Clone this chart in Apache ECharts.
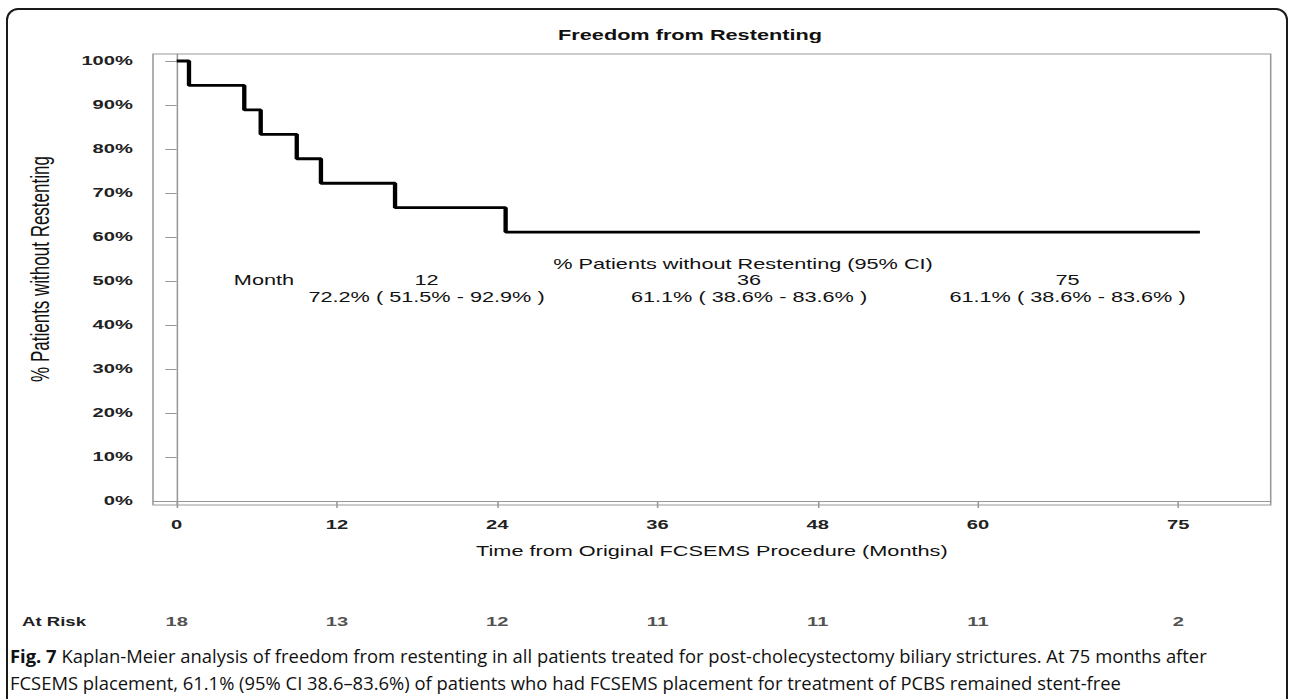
<!DOCTYPE html>
<html>
<head>
<meta charset="utf-8">
<script src="https://cdn.jsdelivr.net/npm/echarts@6/dist/echarts.min.js"></script>
<style>
html,body{margin:0;padding:0;background:#fff;}
#wrap{position:relative;width:1292px;height:699px;overflow:hidden;background:#fff;}
#main{position:absolute;left:0;top:0;width:834px;height:699px;transform:scaleX(1.549161);transform-origin:0 0;}
#over{position:absolute;left:0;top:0;width:1292px;height:699px;}
</style>
</head>
<body>
<div id="wrap"><div id="main"></div><div id="over"></div></div>
<script>
// ---- data ----
const kmTimes    = [0, 0.92, 5.06, 6.29, 8.99, 10.80, 16.35, 24.63, 76.62];
const kmSurvival = [100, 94.44, 88.89, 83.33, 77.78, 72.22, 66.67, 61.11, 61.11];
const xTicks = [0, 12, 24, 36, 48, 60, 75];
const yTicks = [0, 10, 20, 30, 40, 50, 60, 70, 80, 90, 100];
const atRiskTimes  = [0, 12, 24, 36, 48, 60, 75];
const atRiskCounts = [18, 13, 12, 11, 11, 11, 2];
const insetHeader = '% Patients without Restenting (95% CI)';
const insetMonths = ['12', '36', '75'];
const insetEstimates = ['72.2% ( 51.5% - 92.9% )', '61.1% ( 38.6% - 83.6% )', '61.1% ( 38.6% - 83.6% )'];
const titleText = 'Freedom from Restenting';
const xName = 'Time from Original FCSEMS Procedure (Months)';
const yName = '% Patients without Restenting';
const captionBold = 'Fig. 7';
const captionLine1 = ' Kaplan-Meier analysis of freedom from restenting in all patients treated for post-cholecystectomy biliary strictures. At 75 months after';
const captionLine2 = 'FCSEMS placement, 61.1% (95% CI 38.6–83.6%) of patients who had FCSEMS placement for treatment of PCBS remained stent-free';

// ---- layout (unstretched coordinates; main layer is stretched horizontally) ----
const S = 1292 / 834;
const FONT = '"Liberation Sans", Arial, sans-serif';
const gridLeft = 153 / S, gridRight = 834 - 1270.7 / S;
const xMin = -1.775, xMax = 81.92, yMin = -0.91, yMax = 101.59;

const kmData = kmTimes.map((t, i) => [t, kmSurvival[i]]);
const riskData = atRiskTimes.map((t, i) => [t, 0.5, atRiskCounts[i]]);

const main = echarts.init(document.getElementById('main'), null, {renderer: 'svg', width: 834, height: 699});

const insetGraphics = [
  {type:'text', x: 743/S, y: 264, style:{text: insetHeader, font: '14px ' + FONT, fill:'#111', textAlign:'center', textVerticalAlign:'middle'}},
  {type:'text', x: 264/S, y: 280, style:{text: 'Month', font: '14px ' + FONT, fill:'#111', textAlign:'center', textVerticalAlign:'middle'}}
];
const insetX = [426.5, 749, 1067.5];
insetMonths.forEach((m, i) => {
  insetGraphics.push({type:'text', x: insetX[i]/S, y: 280, style:{text: m, font: '14px ' + FONT, fill:'#111', textAlign:'center', textVerticalAlign:'middle'}});
  insetGraphics.push({type:'text', x: insetX[i]/S, y: 297, style:{text: insetEstimates[i], font: '14px ' + FONT, fill:'#111', textAlign:'center', textVerticalAlign:'middle'}});
});

main.setOption({
  backgroundColor: '#fff',
  animation: false,
  grid: [
    {left: gridLeft, right: gridRight, top: 54, bottom: 699 - 505, show: true, borderColor: '#999', borderWidth: 1, backgroundColor: 'transparent'},
    {left: gridLeft, right: gridRight, top: 610, height: 24, show: false}
  ],
  xAxis: [
    {type: 'value', gridIndex: 0, min: xMin, max: xMax,
     name: xName, nameLocation: 'middle', nameGap: 39,
     nameTextStyle: {fontFamily: FONT, fontSize: 14, color: '#111'},
     axisLine: {show: true, lineStyle: {color: '#999', width: 1}},
     axisTick: {show: true, customValues: xTicks, length: 7, lineStyle: {color: '#999'}},
     axisLabel: {show: true, customValues: xTicks, margin: 13, fontFamily: FONT, fontWeight: 'bold', fontSize: 13, color: '#222'},
     splitLine: {show: false}},
    {type: 'value', gridIndex: 1, min: xMin, max: xMax, show: false}
  ],
  yAxis: [
    {type: 'value', gridIndex: 0, min: yMin, max: yMax,
     axisLine: {show: true, lineStyle: {color: '#999', width: 1}},
     axisTick: {show: true, customValues: yTicks, length: 7.4, lineStyle: {color: '#999'}},
     axisLabel: {show: true, customValues: yTicks, margin: 13, formatter: '{value}%', fontFamily: FONT, fontWeight: 'bold', fontSize: 13, color: '#222'},
     splitLine: {show: false}},
    {type: 'value', gridIndex: 1, min: 0, max: 1, show: false}
  ],
  series: [
    {type: 'line', xAxisIndex: 0, yAxisIndex: 0, data: kmData, step: 'end', symbol: 'none',
     lineStyle: {color: '#000', width: 2.8}, clip: false},
    {type: 'scatter', xAxisIndex: 1, yAxisIndex: 1, data: riskData, symbol: 'circle', symbolSize: 1,
     itemStyle: {color: 'rgba(0,0,0,0)'},
     label: {show: true, position: 'inside', formatter: p => String(p.value[2]), fontFamily: FONT, fontWeight: 'bold', fontSize: 13, color: '#222'}}
  ],
  graphic: [
    {type:'text', x: 690/S, y: 35, style:{text: titleText, font: 'bold 14px ' + FONT, fill:'#111', textAlign:'center', textVerticalAlign:'middle'}},
    {type:'text', x: 40/S, y: 269, rotation: Math.PI/2, style:{text: yName, font: '17px ' + FONT, fill:'#111', textAlign:'center', textVerticalAlign:'middle'}},
    {type:'text', x: 22/S, y: 622, style:{text: 'At Risk', font: 'bold 12px ' + FONT, fill:'#222', textAlign:'left', textVerticalAlign:'middle'}}
  ].concat(insetGraphics)
});

// ---- overlay: figure frame and caption (not stretched) ----
const over = echarts.init(document.getElementById('over'), null, {renderer: 'svg', width: 1292, height: 699});
over.setOption({
  backgroundColor: 'transparent',
  animation: false,
  graphic: [
    {type: 'rect', shape: {x: 7, y: 9, width: 1280, height: 740, r: 11}, style: {fill: 'none', stroke: '#1a1a1a', lineWidth: 2}},
    {type: 'text', x: 10, y: 642, style: {
      text: '{b|' + captionBold + '}{n|' + captionLine1 + '}\n{n|' + captionLine2 + '}',
      rich: {
        b: {fontFamily: '"Open Sans", sans-serif', fontWeight: 'bold', fontSize: 18.4, fill: '#111', lineHeight: 27},
        n: {fontFamily: '"Open Sans", sans-serif', fontSize: 18.4, fill: '#111', lineHeight: 27}
      }
    }}
  ]
});
</script>
</body>
</html>
